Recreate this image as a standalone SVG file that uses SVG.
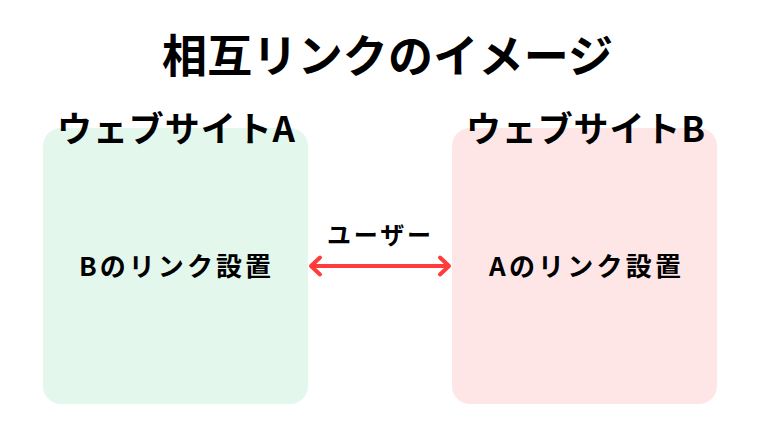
<svg xmlns="http://www.w3.org/2000/svg" width="760" height="428" viewBox="0 0 760 428">
<defs>
<style>
text{font-family:"Noto Sans CJK JP","Noto Sans",sans-serif;font-weight:bold;fill:#000}
.title{font-size:45px}
.head{font-size:35px}
.lbl{font-size:26px}
.conn{stroke:#ff3b3b;stroke-width:4;fill:none;stroke-linecap:round;stroke-linejoin:round}
</style>
</defs>
<rect width="760" height="428" fill="#fff"/>
<text class="title" x="162" y="73" textLength="451" lengthAdjust="spacing">相互リンクのイメージ</text>
<g id="siteA">
<rect x="43" y="128" width="265" height="276" rx="18" fill="#e3f7ed"/>
<text class="head" x="57" y="142" textLength="238" lengthAdjust="spacing">ウェブサイトA</text>
<text class="lbl" x="79" y="276" textLength="192" lengthAdjust="spacing">Bのリンク設置</text>
</g>
<g id="siteB">
<rect x="452" y="128" width="265" height="276" rx="18" fill="#ffe6e6"/>
<text class="head" x="466" y="142" textLength="239" lengthAdjust="spacing">ウェブサイトB</text>
<text class="lbl" x="489" y="276" textLength="192" lengthAdjust="spacing">Aのリンク設置</text>
</g>
<g id="connectors">
<path class="conn" d="M311 266 H449 M320 257.5 L311 266 L320 274.5 M440 257.5 L449 266 L440 274.5"/>
<text x="327" y="244" style="font-size:24px" textLength="104" lengthAdjust="spacing">ユーザー</text>
</g>
</svg>
